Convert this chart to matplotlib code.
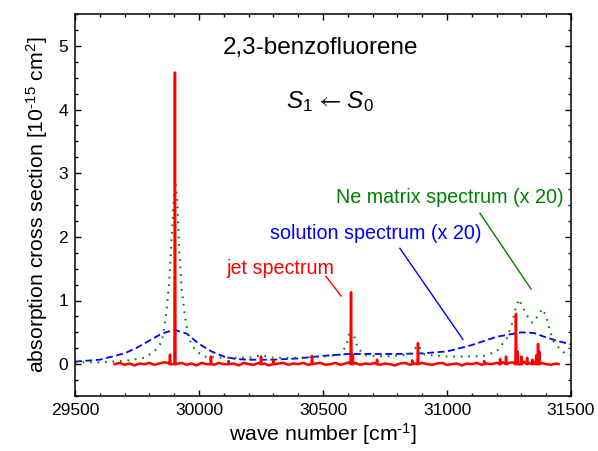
import matplotlib
matplotlib.use("Agg")
import matplotlib.pyplot as plt
from matplotlib.ticker import MultipleLocator

plt.rcParams['font.family'] = ['Liberation Sans', 'DejaVu Sans']
plt.rcParams['mathtext.fontset'] = 'custom'
plt.rcParams['mathtext.rm'] = 'Liberation Sans'
plt.rcParams['mathtext.it'] = 'Liberation Sans:italic'
plt.rcParams['mathtext.bf'] = 'Liberation Sans:bold'

# ---- data ----
# solution spectrum (x 20)
sol_x = [29500, 29600, 29700, 29750, 29800, 29850, 29900, 29950, 30000, 30050,
         30100, 30150, 30200, 30300, 30400, 30500, 30600, 30700, 30800, 30900,
         31000, 31100, 31200, 31300, 31350, 31400, 31450, 31500]
sol_y = [0.04, 0.07, 0.17, 0.26, 0.37, 0.48, 0.54, 0.48, 0.32, 0.20,
         0.12, 0.08, 0.07, 0.07, 0.09, 0.13, 0.16, 0.16, 0.16, 0.17,
         0.20, 0.30, 0.43, 0.50, 0.49, 0.42, 0.36, 0.31]

# Ne matrix spectrum (x 20)
ne_x = [29500, 29600, 29700, 29780, 29820, 29850, 29866, 29880, 29890, 29900,
        29905, 29912, 29920, 29930, 29944, 29960, 29984, 30020, 30100, 30200,
        30250, 30300, 30400, 30500, 30570, 30595, 30610, 30625, 30640, 30670,
        30750, 30850, 30883, 30910, 31000, 31100, 31150, 31200, 31240, 31260,
        31275, 31290, 31305, 31325, 31345, 31365, 31385, 31400, 31415, 31430,
        31455, 31475, 31500]
ne_y = [0.03, 0.03, 0.05, 0.10, 0.20, 0.35, 0.72, 1.30, 2.00, 2.70,
        2.85, 2.60, 1.80, 1.20, 0.72, 0.40, 0.22, 0.12, 0.10, 0.10,
        0.14, 0.10, 0.10, 0.12, 0.15, 0.30, 0.55, 0.45, 0.25, 0.14,
        0.12, 0.15, 0.30, 0.15, 0.12, 0.12, 0.13, 0.20, 0.40, 0.60,
        0.85, 1.02, 0.90, 0.75, 0.65, 0.75, 0.87, 0.75, 0.52, 0.36,
        0.24, 0.17, 0.14]

# jet spectrum: baseline samples and line positions/heights
jet_base_x = [29660, 29680, 29700, 29720, 29740, 29760, 29780, 29800, 29820, 29840,
              29860, 29875, 29930, 29950, 29970, 29990, 30010, 30030, 30060, 30080,
              30100, 30140, 30160, 30180, 30200, 30220, 30240, 30265, 30280, 30320,
              30340, 30360, 30380, 30400, 30420, 30440, 30470, 30490, 30510, 30530,
              30550, 30570, 30590, 30605, 30630, 30650, 30670, 30690, 30710, 30730,
              30750, 30770, 30790, 30810, 30830, 30850, 30870, 30900, 30920, 30940,
              30960, 30980, 31000, 31020, 31040, 31060, 31080, 31100, 31120, 31140,
              31160, 31180, 31200, 31225, 31250, 31265, 31310, 31330, 31350, 31380,
              31400, 31420, 31440, 31450]
jet_base_y = [0.00, 0.02, -0.01, 0.01, -0.02, 0.01, 0.00, 0.02, -0.01, 0.01,
              0.03, 0.02, 0.02, -0.01, 0.01, -0.02, 0.02, 0.00, -0.01, 0.02,
              0.00, 0.01, -0.02, 0.02, 0.00, -0.01, 0.02, 0.01, -0.02, 0.01,
              0.02, -0.01, 0.01, 0.00, 0.02, -0.01, 0.01, 0.02, -0.01, 0.00,
              0.02, -0.01, 0.01, 0.03, 0.02, -0.01, 0.01, 0.00, 0.02, -0.01,
              0.01, 0.00, -0.02, 0.01, 0.02, -0.01, 0.01, 0.02, 0.00, -0.01,
              0.01, 0.02, -0.01, 0.00, 0.01, -0.02, 0.01, 0.00, 0.02, -0.01,
              0.01, 0.00, 0.02, 0.03, 0.02, 0.03, 0.04, 0.02, 0.03, 0.02,
              0.00, -0.01, 0.01, 0.00]
jet_peak_x = [29883, 29903, 30048, 30120, 30250, 30300, 30456, 30613, 30620, 30718,
              30860, 30883, 31150, 31214, 31238, 31278, 31285, 31300, 31323, 31345,
              31360, 31367, 31372]
jet_peak_y = [0.15, 4.58, 0.12, 0.05, 0.12, 0.06, 0.13, 1.13, 0.15, 0.07,
              0.06, 0.33, 0.05, 0.08, 0.12, 0.79, 0.20, 0.12, 0.10, 0.07,
              0.14, 0.32, 0.20]

# assemble jet trace (baseline points plus narrow sticks)
pts = list(zip(jet_base_x, jet_base_y))
for px, py in zip(jet_peak_x, jet_peak_y):
    pts += [(px - 2, 0.0), (px, py), (px + 2, 0.0)]
pts.sort()
jet_x = [p[0] for p in pts]
jet_y = [p[1] for p in pts]

# ---- figure ----
fig = plt.figure(figsize=(5.98, 4.51), dpi=100)
ax = fig.add_axes([75/598, 1-396/451, 496/598, 382/451])

ax.plot(sol_x, sol_y, color='#0000ff', lw=1.3, dashes=(3.8, 2.0))
ax.plot(ne_x, ne_y, color='#008000', lw=1.5, dashes=(0.8, 2.8))
ax.plot(jet_x, jet_y, color='#ff0000', lw=1.8)

ax.set_xlim(29500, 31500)
ax.set_ylim(-0.5, 5.5)
ax.xaxis.set_major_locator(MultipleLocator(500))
ax.xaxis.set_minor_locator(MultipleLocator(100))
ax.yaxis.set_major_locator(MultipleLocator(1))
ax.yaxis.set_minor_locator(MultipleLocator(0.25))
ax.tick_params(which='both', direction='in', top=True, right=True, labelsize=12.5, width=1)
ax.tick_params(which='major', length=4.3, pad=5)
ax.tick_params(which='minor', length=2.2)
for s in ax.spines.values():
    s.set_linewidth(1.1)

ax.set_xlabel(r'wave number [cm$^{\text{-1}}$]', fontsize=15.3, labelpad=2)
ax.set_ylabel(r'absorption cross section [10$^{\text{-15}}$ cm$^{2}$]', fontsize=15.3, labelpad=6)

# texts
ax.text(30488, 4.96, '2,3-benzofluorene', fontsize=17.5, ha='center', va='center')
ax.text(30528, 4.12, r'$S_1$ ← $S_0$', fontsize=17.5, ha='center', va='center',
        family=['STIXGeneral', 'DejaVu Sans'])
ax.text(31012, 2.61, 'Ne matrix spectrum (x 20)', fontsize=14.2, color='#008000', ha='center', va='center')
ax.text(31141, 2.06, 'solution spectrum (x 20)', fontsize=14.2, color='#0000ff', ha='right', va='center')
ax.text(30327, 1.51, 'jet spectrum', fontsize=14.2, color='#ff0000', ha='center', va='center')

ax.plot([30512, 30573], [1.38, 1.07], color='#ff0000', lw=1)
ax.plot([30810, 31064], [1.82, 0.39], color='#0000ff', lw=1)
ax.plot([31133, 31339], [2.37, 1.18], color='#008000', lw=1)

fig.savefig('out.png', dpi=100)
